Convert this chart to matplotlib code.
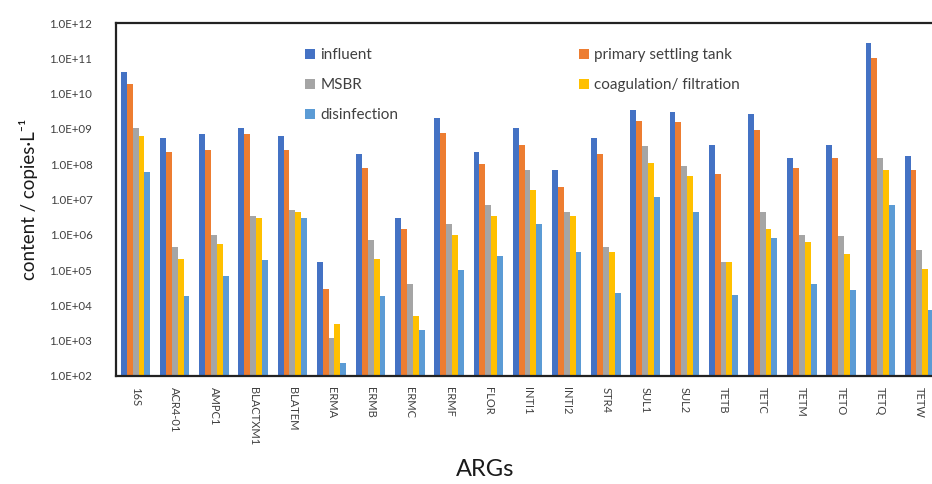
import numpy as np
from matplotlib import pyplot as plt
from matplotlib.ticker import FixedLocator, FuncFormatter, NullLocator

plt.rcParams['font.family'] = ['Lato', 'DejaVu Sans']

# Genes on the x axis
genes = ["16S", "ACR4-01", "AMPC1", "BLACTXM1", "BLATEM", "ERMA", "ERMB", "ERMC",
         "ERMF", "FLOR", "INTI1", "INTI2", "STR4", "SUL1", "SUL2", "TETB", "TETC",
         "TETM", "TETO", "TETQ", "TETW"]

# Treatment stages (copies per litre)
influent = [4.0e10, 5.4e8, 7.1e8, 1.05e9, 6.2e8, 1.66e5, 1.9e8, 2.9e6, 2.0e9, 2.2e8, 1.05e9,
            6.7e7, 5.4e8, 3.4e9, 3.0e9, 3.6e8, 2.6e9, 1.5e8, 3.6e8, 2.8e11, 1.7e8]
primary = [1.9e10, 2.2e8, 2.5e8, 7.1e8, 2.5e8, 3.0e4, 7.6e7, 1.5e6, 7.9e8, 1.0e8, 3.6e8,
           2.3e7, 1.9e8, 1.7e9, 1.55e9, 5.2e7, 9.1e8, 7.6e7, 1.5e8, 1.0e11, 6.7e7]
msbr = [1.07e9, 4.6e5, 1.0e6, 3.3e6, 4.9e6, 1.2e3, 6.9e5, 4.0e4, 2.0e6, 7.2e6, 6.7e7,
        4.3e6, 4.6e5, 3.2e8, 8.7e7, 1.66e5, 4.3e6, 1.0e6, 9.0e5, 1.5e8, 3.6e5]
coag = [6.2e8, 2.1e5, 5.4e5, 2.9e6, 4.3e6, 2.9e3, 2.1e5, 4.9e3, 1.0e6, 3.3e6, 1.8e7,
        3.3e6, 3.2e5, 1.1e8, 4.6e7, 1.66e5, 1.5e6, 6.2e5, 2.8e5, 6.7e7, 1.1e5]
disinf = [5.9e7, 1.8e4, 6.6e4, 1.9e5, 2.9e6, 2.4e2, 1.8e4, 1.95e3, 9.8e4, 2.5e5, 2.0e6,
          3.2e5, 2.3e4, 1.2e7, 4.3e6, 2.0e4, 8.0e5, 4.0e4, 2.7e4, 7.2e6, 7.2e3]

series = [("influent", influent, "#4472C4"),
          ("primary settling tank", primary, "#ED7D31"),
          ("MSBR", msbr, "#A5A5A5"),
          ("coagulation/ filtration", coag, "#FFC000"),
          ("disinfection", disinf, "#5B9BD5")]

fig = plt.figure(figsize=(9.32, 4.84), dpi=100)
# axes runs past the right edge like in the reference
ax = fig.add_axes([116 / 932, 1 - 376 / 484, 823 / 932, 353 / 484])

x = np.arange(len(genes))
w = 0.15
bars = {}
for i, (name, vals, col) in enumerate(series):
    bars[name] = ax.bar(x + (i - 2) * w, vals, w, color=col, label=name)

ax.set_yscale("log")
ax.set_ylim(1e2, 1e12)
ax.set_xlim(-0.5, len(genes) - 0.5)
ax.yaxis.set_major_locator(FixedLocator([10.0 ** k for k in range(2, 13)]))
ax.yaxis.set_minor_locator(NullLocator())
ax.yaxis.set_major_formatter(FuncFormatter(lambda v, p: "1.0E+%02d" % round(np.log10(v))))
ax.tick_params(axis="y", length=0, pad=17, labelsize=8.3, labelcolor="#404040")

ax.set_xticks(x)
ax.set_xticklabels(genes, rotation=-90, fontsize=8, color="#404040")
ax.tick_params(axis="x", length=0, pad=8)

for s in ax.spines.values():
    s.set_linewidth(1.6)
    s.set_color("#222222")

ax.set_ylabel("content / copies·L⁻¹", fontsize=13.5, color="#1a1a1a", labelpad=8)
ax.set_xlabel("ARGs", fontsize=17, color="#1a1a1a")
ax.xaxis.set_label_coords((485 - 116) / 823, (376 - 459) / 353)

# legend in two columns placed like the Excel one
lkw = dict(frameon=False, fontsize=11, handlelength=0.65, handleheight=0.65,
           handletextpad=0.35, labelspacing=1.05, borderpad=0, borderaxespad=0,
           loc="upper left", labelcolor="#404040")
top = (376 - 48) / 353
leg1 = ax.legend([bars["influent"], bars["MSBR"], bars["disinfection"]],
                 ["influent", "MSBR", "disinfection"],
                 bbox_to_anchor=((305 - 116) / 823, top), **lkw)
ax.add_artist(leg1)
ax.legend([bars["primary settling tank"], bars["coagulation/ filtration"]],
          ["primary settling tank", "coagulation/ filtration"],
          bbox_to_anchor=((579 - 116) / 823, top), **lkw)

fig.savefig("out.png", dpi=100)
